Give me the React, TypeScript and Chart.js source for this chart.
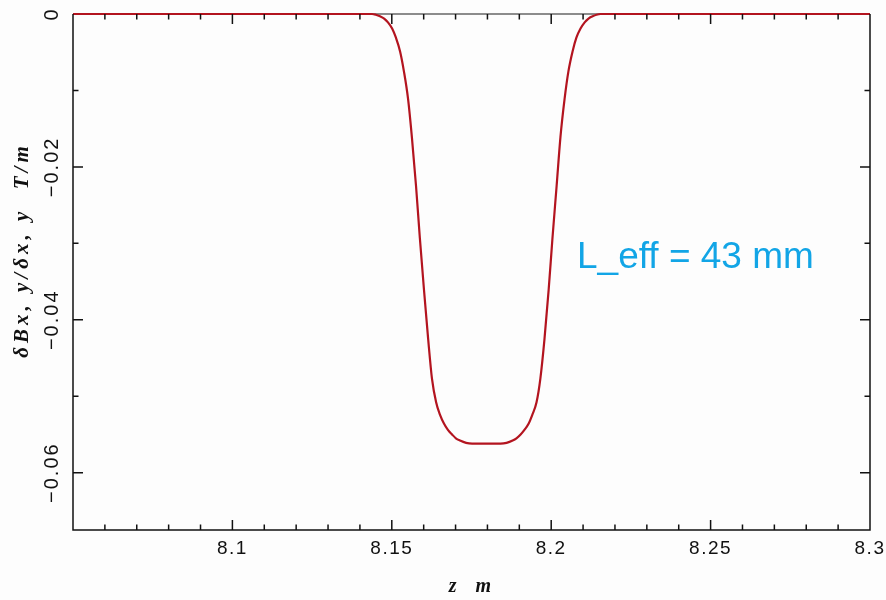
import React, { useEffect, useRef } from 'react';
import { Chart, registerables } from 'chart.js';

Chart.register(...registerables);

// Field gradient profile along the beam axis (z in m, gradient in T/m)
const zPositions = [
  8.05,
  8.1438, 8.145, 8.1463, 8.1476, 8.1488, 8.1501, 8.1513, 8.1526, 8.1538, 8.1551,
  8.1563, 8.1576, 8.1588, 8.1601, 8.1614, 8.1626, 8.1639, 8.1651, 8.1664, 8.1676,
  8.1689, 8.1701, 8.1714, 8.1733, 8.1752,
  8.1796,
  8.1841, 8.186, 8.1879, 8.1891, 8.1904, 8.1916, 8.1929, 8.1941, 8.1954, 8.1966,
  8.1979, 8.1992, 8.2004, 8.2017, 8.2029, 8.2042, 8.2054, 8.2067, 8.2079, 8.2092,
  8.2105, 8.2117, 8.213, 8.2142, 8.2155,
  8.3,
];
const gradientValues = [
  0,
  0, -0.0001, -0.0003, -0.0006, -0.0011, -0.0019, -0.0031, -0.0049, -0.0075, -0.0111,
  -0.0161, -0.0225, -0.0293, -0.0361, -0.0425, -0.0477, -0.0508, -0.0524, -0.0536, -0.0544,
  -0.055, -0.0555, -0.0558, -0.0561, -0.0562,
  -0.0562,
  -0.0562, -0.0561, -0.0558, -0.0555, -0.055, -0.0544, -0.0536, -0.0524, -0.0508, -0.0477,
  -0.0425, -0.0361, -0.0293, -0.0225, -0.0161, -0.0111, -0.0075, -0.0049, -0.0031, -0.0019,
  -0.0011, -0.0006, -0.0003, -0.0001, 0,
  0,
];

// Axis ticks
const xMajorTicks = [8.1, 8.15, 8.2, 8.25];
const xTickLabels = ['8.1', '8.15', '8.2', '8.25', '8.3'];
const xLabelValues = [8.1, 8.15, 8.2, 8.25, 8.3];
const yMajorTicks = [0, -0.02, -0.04, -0.06];
const yMinorTicks = [-0.01, -0.03, -0.05];
const yTickLabels = ['0', '\u22120.02', '\u22120.04', '\u22120.06'];

const X_MIN = 8.05;
const X_MAX = 8.3;
const Y_MIN = -0.0675;
const Y_MAX = 0;

const xTitle = 'z  m';
const yTitle = '\u03b4Bx, y/\u03b4x, y  T/m';
const annotation = 'L_eff = 43 mm';

const framePlugin = {
  id: 'frame',
  beforeDraw(chart: any) {
    const { ctx, width, height } = chart;
    ctx.save();
    ctx.fillStyle = '#fdfdfd';
    ctx.fillRect(0, 0, width, height);
    ctx.restore();
  },
  beforeDatasetsDraw(chart: any) {
    const { ctx, chartArea } = chart;
    const { left, right, top } = chartArea;
    ctx.save();
    // top edge (lighter)
    ctx.strokeStyle = '#666';
    ctx.lineWidth = 1.5;
    ctx.beginPath();
    ctx.moveTo(left, top);
    ctx.lineTo(right, top);
    ctx.stroke();
    ctx.restore();
  },
  afterDatasetsDraw(chart: any) {
    const { ctx, chartArea, scales } = chart;
    const { left, right, top, bottom } = chartArea;
    const xs = scales.x;
    const ys = scales.y;
    ctx.save();
    ctx.strokeStyle = '#111';
    ctx.lineWidth = 1.5;
    ctx.beginPath();
    ctx.moveTo(left, top);
    ctx.lineTo(left, bottom);
    ctx.lineTo(right, bottom);
    ctx.lineTo(right, top);
    ctx.stroke();

    const major = 10;
    const minor = 5.5;
    ctx.beginPath();
    // x ticks every 0.01, major every 0.05
    for (let i = 1; i < 25; i++) {
      const v = X_MIN + i * 0.01;
      const isMajor = xMajorTicks.some((m) => Math.abs(m - v) < 1e-6);
      const len = isMajor ? major : minor;
      const px = xs.getPixelForValue(v);
      ctx.moveTo(px, bottom);
      ctx.lineTo(px, bottom - len);
      ctx.moveTo(px, top);
      ctx.lineTo(px, top + len);
    }
    // y ticks
    const yAll = [...yMajorTicks.map((v) => [v, major]), ...yMinorTicks.map((v) => [v, minor])];
    yAll.forEach(([v, len]) => {
      if (v === 0) return;
      const py = ys.getPixelForValue(v);
      ctx.moveTo(left, py);
      ctx.lineTo(left + len, py);
      ctx.moveTo(right, py);
      ctx.lineTo(right - len, py);
    });
    ctx.stroke();

    // tick labels
    ctx.fillStyle = '#111';
    ctx.textAlign = 'center';
    ctx.textBaseline = 'middle';
    ctx.font = '19px "Liberation Sans", Arial, sans-serif';
    (ctx as any).letterSpacing = '1.5px';
    xLabelValues.forEach((v, i) => {
      ctx.fillText(xTickLabels[i], xs.getPixelForValue(v), bottom + 19);
    });
    ctx.font = '20px "Liberation Sans", Arial, sans-serif';
    (ctx as any).letterSpacing = '2px';
    yMajorTicks.forEach((v, i) => {
      const py = ys.getPixelForValue(v);
      ctx.save();
      ctx.translate(52, py);
      ctx.rotate(-Math.PI / 2);
      ctx.fillText(yTickLabels[i], 0, 0);
      ctx.restore();
    });

    // axis titles
    ctx.font = 'italic bold 20px "Liberation Serif", "DejaVu Serif", serif';
    (ctx as any).letterSpacing = '3px';
    ctx.fillText(xTitle, (left + right) / 2, bottom + 57);
    ctx.font = 'italic bold 21px "Liberation Serif", "DejaVu Serif", serif';
    (ctx as any).letterSpacing = '4px';
    ctx.save();
    ctx.translate(23, 250);
    ctx.rotate(-Math.PI / 2);
    ctx.fillText(yTitle, 0, 0);
    ctx.restore();

    // annotation
    (ctx as any).letterSpacing = '0px';
    ctx.font = '37px "Liberation Sans", Arial, sans-serif';
    ctx.fillStyle = '#12a5e6';
    ctx.textAlign = 'left';
    ctx.textBaseline = 'alphabetic';
    ctx.fillText(annotation, 577, 268);
    ctx.restore();
  },
};

export default function App() {
  const canvasRef = useRef<HTMLCanvasElement | null>(null);

  useEffect(() => {
    if (!canvasRef.current) return;
    const points = zPositions.map((z, i) => ({ x: z, y: gradientValues[i] }));
    const chart = new Chart(canvasRef.current, {
      type: 'line',
      data: {
        datasets: [
          {
            data: points,
            borderColor: '#b3141f',
            borderWidth: 2.2,
            pointRadius: 0,
            fill: false,
            cubicInterpolationMode: 'monotone',
            clip: false,
          } as any,
        ],
      },
      options: {
        animation: false,
        responsive: false,
        maintainAspectRatio: false,
        layout: { padding: { left: 73, right: 16, top: 14, bottom: 70 } },
        plugins: { legend: { display: false }, tooltip: { enabled: false } },
        scales: {
          x: { type: 'linear', min: X_MIN, max: X_MAX, display: false },
          y: { type: 'linear', min: Y_MIN, max: Y_MAX, display: false },
        },
      },
      plugins: [framePlugin],
    });
    return () => chart.destroy();
  }, []);

  return (
    <div style={{ position: 'absolute', left: 0, top: 0, width: 886, height: 600 }}>
      <canvas ref={canvasRef} width={886} height={600} style={{ display: 'block' }} />
    </div>
  );
}
